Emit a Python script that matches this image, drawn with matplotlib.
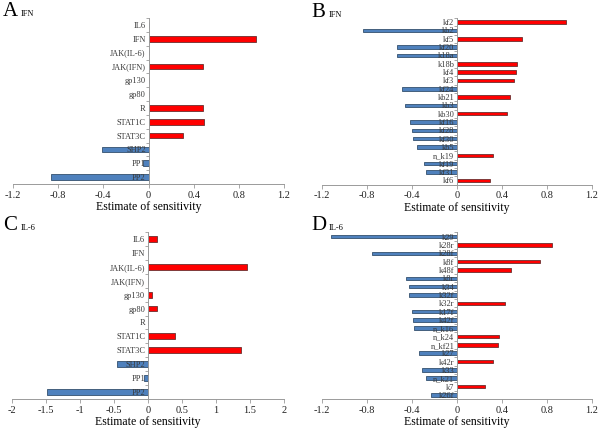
import numpy as np
import matplotlib
matplotlib.use("Agg")
import matplotlib.pyplot as plt

plt.rcParams["font.family"] = ["Liberation Serif", "DejaVu Serif"]

# Panel A: IFN output, species
a_labels = ["IL6", "IFN", "JAK(IL-6)", "JAK(IFN)", "gp130", "gp80", "R",
            "STAT1C", "STAT3C", "SHP2", "PP1", "PP2"]
a_values = [0, 0.95, 0, 0.48, 0, 0, 0.48, 0.49, 0.305, -0.41, -0.05, -0.86]

# Panel B: IFN output, parameters
b_labels = ["kf2", "kb2", "kf5", "kf20", "k18a", "k18b", "kf4", "kf3", "kf24",
            "kb21", "kb3", "kb30", "kf16", "kf28", "kf30", "kb5", "n_k19",
            "kf19", "kf31", "kf6"]
b_values = [0.965, -0.835, 0.58, -0.53, -0.53, 0.53, 0.52, 0.51, -0.49,
            0.47, -0.46, 0.44, -0.42, -0.40, -0.39, -0.36, 0.32,
            -0.29, -0.28, 0.29]

# Panel C: IL-6 output, species
c_labels = a_labels
c_values = [0.13, 0, 1.46, 0, 0.06, 0.13, 0, 0.40, 1.37, -0.45, -0.06, -1.49]

# Panel D: IL-6 output, parameters
d_labels = ["k29", "k28r", "k28f", "k8f", "k48f", "k8r", "k34", "k32f", "k32r",
            "k17f", "k42f", "n_k16", "n_k24", "n_kf21", "k27", "k42r", "k33",
            "n_k21", "k7", "k26f"]
d_values = [-1.12, 0.84, -0.76, 0.74, 0.48, -0.45, -0.43, -0.43, 0.43,
            -0.40, -0.39, -0.38, 0.37, 0.365, -0.34, 0.32, -0.31,
            -0.28, 0.25, -0.235]

W, H = 600, 428
fig = plt.figure(figsize=(6, 4.28), dpi=100)

RED = "#ff0000"
BLUE = "#4f81bd"
AXC = "#9a9a9a"


def panel(px_left, px_right, px_top, px_bottom, labels, values, xlim, xticks,
          letter, sub, letter_xy, ytick_size):
    ax = fig.add_axes([px_left / W, 1 - px_bottom / H,
                       (px_right - px_left) / W, (px_bottom - px_top) / H])
    y = np.arange(len(labels))
    vals = np.array(values)
    colors = [RED if v > 0 else BLUE for v in vals]
    edges = ["#6a3030" if v > 0 else "#34506e" for v in vals]
    ax.barh(y, vals, height=0.42, color=colors, edgecolor=edges, linewidth=0.6,
            zorder=1)
    ax.set_axisbelow(False)
    ax.set_ylim(len(labels) - 0.5, -0.5)
    ax.set_xlim(*xlim)
    ax.set_xticks(xticks, [("%g" % t) for t in xticks])
    ax.set_yticks(y, labels)
    ax.set_yticks(np.arange(len(labels) + 1) - 0.5, minor=True)
    ax.tick_params(axis="y", which="major", length=0, pad=2,
                   labelsize=ytick_size, labelcolor="#3a3a3a")
    ax.tick_params(axis="y", which="minor", length=2.5, color=AXC, width=0.6)
    ax.tick_params(axis="x", length=3, color=AXC, width=0.6, pad=2,
                   labelsize=7.5, labelcolor="#222222")
    for s in ["top", "right"]:
        ax.spines[s].set_visible(False)
    ax.spines["left"].set_position(("data", 0))
    ax.spines["left"].set_color(AXC)
    ax.spines["bottom"].set_color(AXC)
    ax.spines["left"].set_linewidth(0.7)
    ax.spines["bottom"].set_linewidth(0.7)
    ax.patch.set_alpha(0)
    ax.set_xlabel("Estimate of sensitivity", fontsize=8.5, labelpad=1)
    lx, ly = letter_xy
    fig.text(lx / W, 1 - ly / H, letter, fontsize=15, va="baseline", ha="left")
    fig.text((lx + 18) / W, 1 - ly / H, sub, fontsize=6, va="baseline", ha="left")
    return ax


panel(13, 284, 18, 184, a_labels, a_values, (-1.2, 1.2),
      [-1.2, -0.8, -0.4, 0, 0.4, 0.8, 1.2], "A", "IFN", (3, 16), 6)
panel(322, 592, 18, 184.5, b_labels, b_values, (-1.2, 1.2),
      [-1.2, -0.8, -0.4, 0, 0.4, 0.8, 1.2], "B", "IFN", (311, 17), 6)
panel(12, 284, 232, 399, c_labels, c_values, (-2, 2),
      [-2, -1.5, -1, -0.5, 0, 0.5, 1, 1.5, 2], "C", "IL-6", (3, 230), 6)
panel(322, 592, 232.5, 399, d_labels, d_values, (-1.2, 1.2),
      [-1.2, -0.8, -0.4, 0, 0.4, 0.8, 1.2], "D", "IL-6", (311, 230), 6)

fig.savefig("out.png", dpi=100)
